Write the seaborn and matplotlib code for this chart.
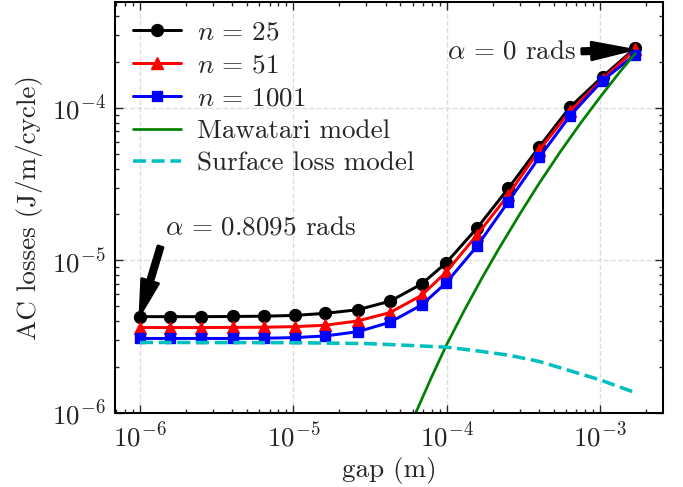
import numpy as np
import pandas as pd
import seaborn as sns
import matplotlib
matplotlib.use("Agg")
import matplotlib.pyplot as plt

# ---- data ----
gap = [1.0e-6, 1.58e-6, 2.51e-6, 4.07e-6, 6.46e-6, 1.02e-5, 1.62e-5, 2.63e-5,
       4.27e-5, 6.86e-5, 9.9e-5, 1.58e-4, 2.53e-4, 4.03e-4, 6.38e-4, 1.04e-3, 1.70e-3]
loss_n25 = [4.28e-6, 4.28e-6, 4.28e-6, 4.29e-6, 4.31e-6, 4.36e-6, 4.50e-6, 4.75e-6,
            5.40e-6, 7.00e-6, 9.60e-6, 1.63e-5, 2.97e-5, 5.57e-5, 1.01e-4, 1.60e-4, 2.46e-4]
loss_n51 = [3.63e-6, 3.63e-6, 3.63e-6, 3.64e-6, 3.65e-6, 3.68e-6, 3.76e-6, 4.01e-6,
            4.55e-6, 5.90e-6, 8.35e-6, 1.47e-5, 2.69e-5, 5.30e-5, 9.50e-5, 1.54e-4, 2.42e-4]
loss_n1001 = [3.08e-6, 3.08e-6, 3.08e-6, 3.08e-6, 3.09e-6, 3.12e-6, 3.20e-6, 3.41e-6,
              3.93e-6, 5.10e-6, 7.10e-6, 1.24e-5, 2.43e-5, 4.75e-5, 8.86e-5, 1.51e-4, 2.23e-4]

maw_gap = [6.0e-5, 8.0e-5, 1.0e-4, 1.3e-4, 1.7e-4, 2.2e-4, 3.0e-4, 4.0e-4,
           5.5e-4, 7.5e-4, 1.0e-3, 1.35e-3, 1.7e-3]
maw_loss = [0.90e-6, 1.73e-6, 2.80e-6, 4.67e-6, 7.66e-6, 1.20e-5, 2.01e-5, 3.18e-5,
            5.13e-5, 7.96e-5, 1.17e-4, 1.72e-4, 2.27e-4]

surf_gap = [1.0e-6, 1.0e-5, 3.0e-5, 5.0e-5, 1.0e-4, 1.6e-4, 2.5e-4, 4.0e-4,
            6.3e-4, 1.0e-3, 1.7e-3]
surf_loss = [2.90e-6, 2.89e-6, 2.85e-6, 2.79e-6, 2.70e-6, 2.55e-6, 2.40e-6, 2.18e-6,
             1.90e-6, 1.65e-6, 1.36e-6]

labels = [r"$n\,=\,25$", r"$n\,=\,51$", r"$n\,=\,1001$", "Mawatari model", "Surface loss model"]

# ---- style ----
sns.set_style("ticks")
plt.rcParams.update({
    "font.family": ["serif"],
    "font.serif": ["cmr10", "DejaVu Serif"],
    "mathtext.fontset": "cm",
    "axes.formatter.use_mathtext": True,
    "axes.unicode_minus": False,
    "font.size": 10,
    "axes.labelsize": 10,
    "xtick.labelsize": 10,
    "ytick.labelsize": 10,
    "legend.fontsize": 10,
    "axes.linewidth": 0.75,
    "xtick.direction": "in",
    "ytick.direction": "in",
    "xtick.top": True,
    "ytick.right": True,
    "xtick.major.size": 3,
    "ytick.major.size": 3,
    "xtick.minor.size": 1.5,
    "ytick.minor.size": 1.5,
    "xtick.major.width": 0.5,
    "ytick.major.width": 0.5,
    "xtick.minor.width": 0.5,
    "ytick.minor.width": 0.5,
    "xtick.minor.visible": True,
    "ytick.minor.visible": True,
    "axes.edgecolor": "black",
})

dpi = 195
fig = plt.figure(figsize=(683 / dpi, 487 / dpi), dpi=dpi)
ax = fig.add_axes([115 / 683, 1 - 413 / 487, (663 - 115) / 683, (413 - 2.5) / 487])

df = pd.DataFrame({"gap": gap, "n25": loss_n25, "n51": loss_n51, "n1001": loss_n1001})
dfm = pd.DataFrame({"gap": maw_gap, "loss": maw_loss})
dfs = pd.DataFrame({"gap": surf_gap, "loss": surf_loss})

series = [("n25", "black", "o", 4.4), ("n51", "red", "^", 4.6), ("n1001", "blue", "s", 4.0)]
for (col, c, m, ms), lab in zip(series, labels[:3]):
    sns.lineplot(data=df, x="gap", y=col, ax=ax, color=c, marker=m, markersize=ms,
                 markeredgecolor=c, markeredgewidth=0.5, linewidth=1.1, label=lab)

sns.lineplot(data=dfm, x="gap", y="loss", ax=ax, color="green", linewidth=1.0,
             label=labels[3])
sns.lineplot(data=dfs, x="gap", y="loss", ax=ax, color="c", linewidth=1.3,
             linestyle="--", label=labels[4])

ax.set_xscale("log")
ax.set_yscale("log")
ax.set_xlim(6.87e-7, 2.58e-3)
ax.set_ylim(1e-6, 4.9e-4)
ax.grid(True, which="major", linestyle="--", color="#dddddd", linewidth=0.5)
ax.set_axisbelow(True)
ax.set_xlabel("gap (m)", labelpad=1.5)
ax.set_ylabel("AC losses (J/m/cycle)", labelpad=3)

# annotations
ax.annotate("", xy=(1.0e-6, 4.4e-6), xytext=(1.36e-6, 1.23e-5),
            arrowprops=dict(facecolor="black", edgecolor="black", width=2,
                            headwidth=6.5, headlength=13, shrink=0.0))
ax.text(1.46e-6, 1.63e-5, r"$\alpha\,=\,0.8095$ rads", va="center", ha="left")
ax.annotate(r"$\alpha\,=\,0$ rads", xy=(1.62e-3, 2.40e-4), xytext=(1.0e-4, 2.34e-4),
            va="center", ha="left",
            arrowprops=dict(facecolor="black", edgecolor="black", width=2,
                            headwidth=6.5, headlength=15, shrink=0.0))

ax.legend(loc="upper left", frameon=False, handlelength=1.77, handletextpad=0.58,
          labelspacing=0.33, borderaxespad=0.26, numpoints=1)

fig.savefig("out.png", dpi=dpi)
